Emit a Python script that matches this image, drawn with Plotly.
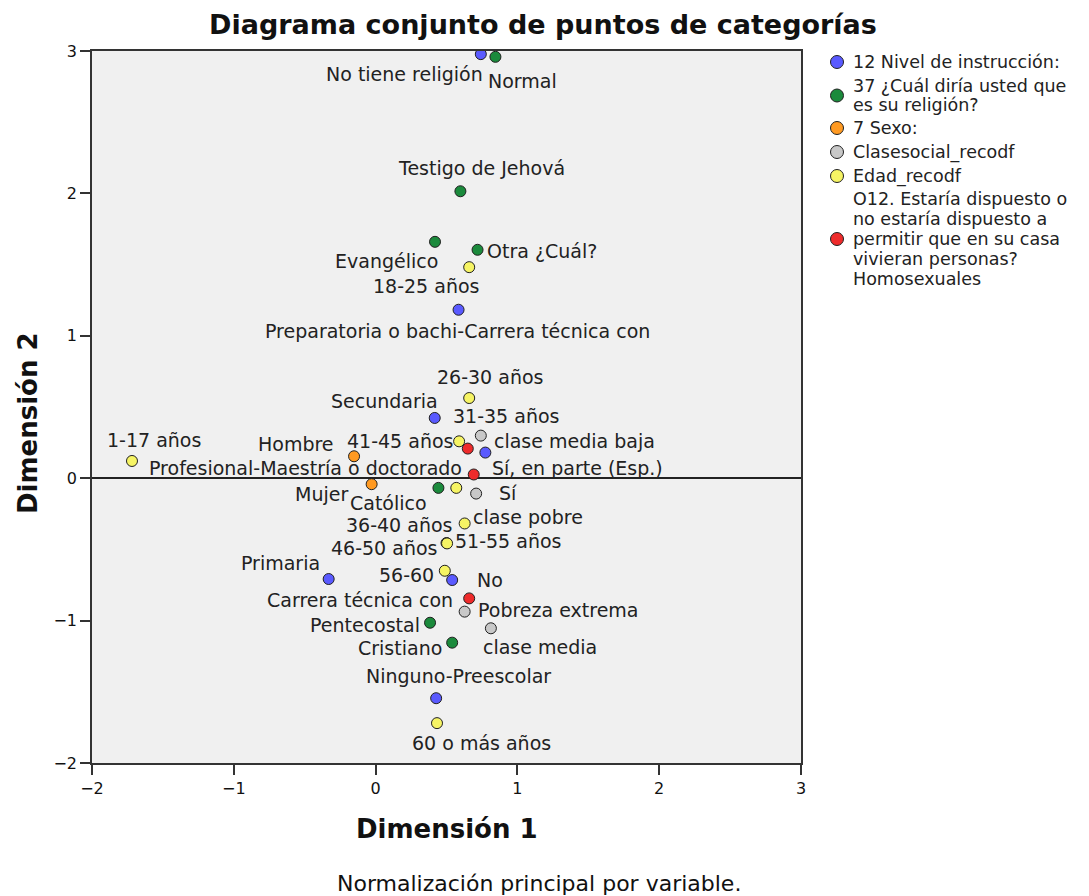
import plotly.graph_objects as go

# ---- data (Dimensión 1, Dimensión 2) per variable ----
edu_cats = ["Normal", "Preparatoria o bachi-Carrera técnica con", "Secundaria",
            "Profesional-Maestría o doctorado", "Primaria", "Carrera técnica con",
            "Ninguno-Preescolar"]
edu_x = [0.742, 0.585, 0.417, 0.774, -0.331, 0.540, 0.427]
edu_y = [2.978, 1.183, 0.423, 0.180, -0.708, -0.715, -1.545]

rel_cats = ["No tiene religión", "Testigo de Jehová", "Evangélico", "Otra ¿Cuál?",
            "Católico", "Pentecostal", "Cristiano"]
rel_x = [0.845, 0.598, 0.419, 0.719, 0.443, 0.384, 0.540]
rel_y = [2.959, 2.015, 1.660, 1.604, -0.068, -1.015, -1.155]

sex_cats = ["Hombre", "Mujer"]
sex_x = [-0.152, -0.028]
sex_y = [0.154, -0.042]

cls_cats = ["clase media baja", "clase pobre", "Pobreza extrema", "clase media"]
cls_x = [0.742, 0.709, 0.628, 0.813]
cls_y = [0.299, -0.108, -0.937, -1.054]

age_cats = ["1-17 años", "18-25 años", "26-30 años", "31-35 años", "36-40 años",
            "41-45 años", "46-50 años", "51-55 años", "56-60", "60 o más años"]
age_x = [-1.718, 0.660, 0.660, 0.569, 0.628, 0.589, 0.500, 0.504, 0.488, 0.433]
age_y = [0.121, 1.482, 0.563, -0.068, -0.318, 0.259, -0.455, -0.458, -0.650, -1.720]

hom_cats = ["Sí, en parte (Esp.)", "Sí", "No"]
hom_x = [0.650, 0.692, 0.660]
hom_y = [0.208, 0.026, -0.844]

legend_lines = [
    ["12 Nivel de instrucción:"],
    ["37 ¿Cuál diría usted que", "es su religión?"],
    ["7 Sexo:"],
    ["Clasesocial_recodf"],
    ["Edad_recodf"],
    ["O12. Estaría dispuesto o", "no estaría dispuesto a", "permitir que en su casa",
     "vivieran personas?", "Homosexuales"],
]

# ---- styling ----
colors = ["#5a5aff", "#1b8a3c", "#ff9a22", "#c8c8c8", "#f6f464", "#ee2b2b"]
# label placement (anchor, x shift px, y shift px) relative to each point
edu_lab = [("left", 5, -27), ("center", -1, -21), ("right", 5, 17), ("right", -21, -15),
           ("right", -7, 16), ("right", 3, -20), ("center", 22, 22)]
rel_lab = [("right", -10, -17), ("center", 21, 23), ("right", 5, -19), ("left", 7, -1),
           ("right", -9, -15), ("right", -8, -2), ("right", -8, -5)]
sex_lab = [("right", -18, 12), ("right", -22, -10)]
cls_lab = [("left", 11, -5), ("left", -5, -23), ("left", 11, 2), ("left", -10, -19)]
age_lab = [("center", 22, 21), ("center", -43, -19), ("center", 21, 21), ("left", -5, 72),
           ("right", -11, -2), ("right", -4, 0), ("right", -8, -5), ("left", 6, 2),
           ("right", -9, -4), ("center", 44, -20)]
hom_lab = [("left", 22, -19), ("left", 23, -18), ("left", 6, 18)]

groups = [
    (edu_cats, edu_x, edu_y, edu_lab),
    (rel_cats, rel_x, rel_y, rel_lab),
    (sex_cats, sex_x, sex_y, sex_lab),
    (cls_cats, cls_x, cls_y, cls_lab),
    (age_cats, age_x, age_y, age_lab),
    (hom_cats, hom_x, hom_y, hom_lab),
]

FONT = "DejaVu Sans"
LABEL_FONT = dict(family=FONT, size=19, color="#222222")

# page geometry (the html body adds an 8px margin)
OFF = 8
W, H = 1089 - OFF, 896 - OFF
PL, PR, PT, PB = 92, 801, 51, 763          # plot area in page pixels


def px_x(p):
    return (p - PL) / (PR - PL)


def px_y(p):
    return (PB - p) / (PB - PT)


fig = go.Figure()
annotations = []
shapes = []
for (cats, xs, ys, labs), lines, col in zip(groups, legend_lines, colors):
    fig.add_trace(go.Scatter(
        x=xs, y=ys, mode="markers", name=" ".join(lines), text=cats,
        marker=dict(size=11, color=col, line=dict(color="#202020", width=1)),
        hovertemplate="%{text}<br>(%{x}, %{y})<extra></extra>",
        showlegend=False,
    ))
    for c, x, y, (anc, dx, dy) in zip(cats, xs, ys, labs):
        annotations.append(dict(
            x=x, y=y, xref="x", yref="y", text=c, showarrow=False,
            xanchor=anc, yanchor="middle", xshift=dx, yshift=dy, font=LABEL_FONT,
        ))

# ---- legend (drawn by hand to reproduce tight multi-line layout) ----
legend_rows = [[62], [86, 105], [128], [152], [176], [199, 219, 239, 259, 279]]
legend_sym = [62, 95.5, 128, 152, 176, 239]
for lines, rows, sy, col in zip(legend_lines, legend_rows, legend_sym, colors):
    for t, ry in zip(lines, rows):
        annotations.append(dict(
            text=t, xref="paper", yref="paper", x=px_x(851), y=px_y(ry),
            xanchor="left", yanchor="middle", showarrow=False,
            font=dict(family=FONT, size=17.5, color="#222222"),
        ))
    shapes.append(dict(
        type="circle", xref="paper", yref="paper",
        xsizemode="pixel", ysizemode="pixel",
        xanchor=px_x(837), yanchor=px_y(sy),
        x0=-6.5, x1=6.5, y0=-6.5, y1=6.5,
        fillcolor=col, line=dict(color="#202020", width=1),
    ))

annotations += [
    dict(text="<b>Dimensión 1</b>", xref="paper", yref="paper", x=px_x(447), y=px_y(829),
         xanchor="center", yanchor="middle", showarrow=False,
         font=dict(family=FONT, size=26, color="#111")),
    dict(text="<b>Dimensión 2</b>", xref="paper", yref="paper", x=px_x(28), y=px_y(423),
         xanchor="center", yanchor="middle", showarrow=False, textangle=-90,
         font=dict(family=FONT, size=26, color="#111")),
    dict(text="Normalización principal por variable.", xref="paper", yref="paper",
         x=px_x(539), y=px_y(883), xanchor="center", yanchor="middle", showarrow=False,
         font=dict(family=FONT, size=22, color="#111")),
]

axis_common = dict(
    range=[-2, 3], dtick=1, showgrid=False, showline=True, mirror=True,
    linecolor="#333333", linewidth=1.5, ticks="outside", ticklen=10,
    tickcolor="#333333", tickwidth=1.5,
    tickfont=dict(family=FONT, size=16, color="#111"),
)

fig.update_layout(
    width=W, height=H,
    margin=dict(l=PL - OFF, r=W - (PR - OFF), t=PT - OFF, b=H - (PB - OFF)),
    paper_bgcolor="white", plot_bgcolor="#f0f0f0",
    title=dict(text="<b>Diagrama conjunto de puntos de categorías</b>",
               x=(543 - OFF) / W, xanchor="center", y=1 - (25 - OFF) / H, yanchor="middle",
               font=dict(family=FONT, size=27, color="#111")),
    xaxis=dict(**axis_common, zeroline=False),
    yaxis=dict(**axis_common, zeroline=True, zerolinecolor="#222222", zerolinewidth=1.5),
    annotations=annotations,
    shapes=shapes,
    showlegend=False,
)

fig.write_html("out.html")
